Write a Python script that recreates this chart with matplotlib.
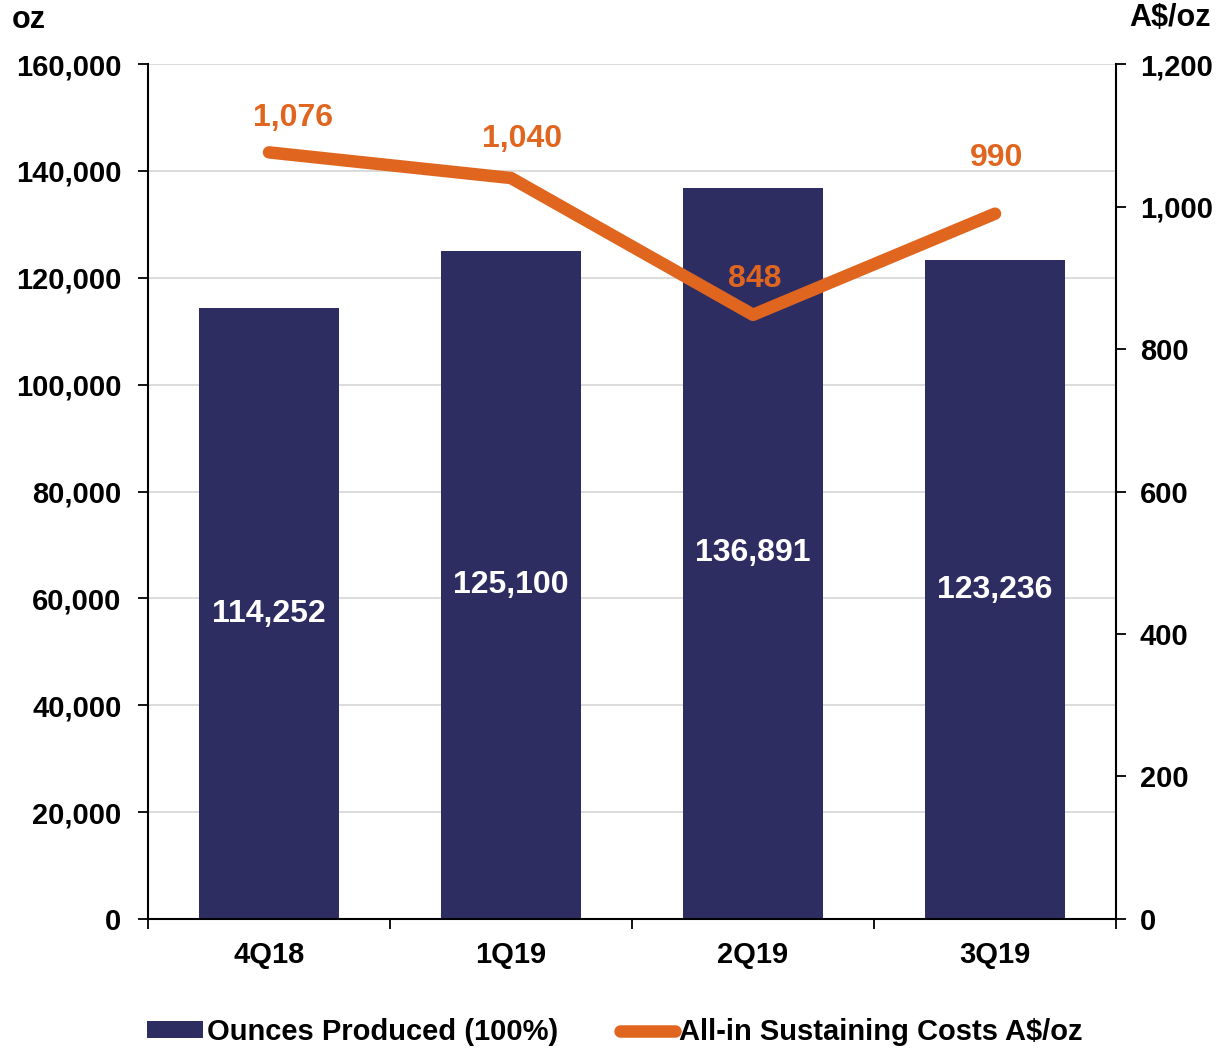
import matplotlib.pyplot as plt
from matplotlib.ticker import FuncFormatter

plt.rcParams['font.family'] = ['Liberation Sans', 'DejaVu Sans']
plt.rcParams['font.weight'] = 'bold'

# Dữ liệu
quarters = ['4Q18', '1Q19', '2Q19', '3Q19']
ounces = [114252, 125100, 136891, 123236]
aisc = [1076, 1040, 848, 990]

bar_color = '#2E2D62'
line_color = '#E0661F'

fig = plt.figure(figsize=(12.18, 10.5), dpi=100)
ax = fig.add_axes([0.1215, 0.1248, 0.7948, 0.8142])
ax2 = ax.twinx()

x = range(len(quarters))
bars = ax.bar(x, ounces, width=0.58, color=bar_color, zorder=2, label='Ounces Produced (100%)')
ax.set_ylim(0, 160000)
ax.set_xlim(-0.5, len(quarters) - 0.5)
ax.set_yticks(range(0, 160001, 20000))
ax.yaxis.set_major_formatter(FuncFormatter(lambda v, p: f'{int(v):,}'))
ax.grid(axis='y', color='#D9D9D9', linewidth=1.3, zorder=0)
ax.set_axisbelow(True)

# Nhãn giá trị trên cột
for i, v in enumerate(ounces):
    ax.text(i, v / 2, f'{v:,}', color='white', ha='center', va='center', fontsize=23, fontweight='bold')

line, = ax2.plot(x, aisc, color=line_color, linewidth=9, solid_capstyle='round',
                 solid_joinstyle='round', zorder=3, label='All-in Sustaining Costs A$/oz')
ax2.set_ylim(0, 1200)
ax2.set_yticks(range(0, 1201, 200))
ax2.yaxis.set_major_formatter(FuncFormatter(lambda v, p: f'{int(v):,}'))

# Vị trí nhãn của đường (điểm)
label_dx = [17, 8, 1, 1]
label_dy = [24.5, 28, 26, 40]
for i, v in enumerate(aisc):
    ax2.annotate(f'{v:,}', (i, v), xytext=(label_dx[i], label_dy[i]), textcoords='offset points',
                 ha='center', va='center', color=line_color, fontsize=23, fontweight='bold')

# Trục
ax.set_xticks([i for i in x])
ax.set_xticklabels(quarters)
ax.set_xticks([i - 0.5 for i in range(len(quarters) + 1)], minor=True)
ax.tick_params(axis='x', which='major', length=0, pad=16, labelsize=21)
ax.tick_params(axis='x', which='minor', length=7, width=1.3, direction='out')
ax.tick_params(axis='y', length=7, width=1.3, labelsize=21, pad=12)
ax2.tick_params(axis='y', length=7, width=1.3, labelsize=21, pad=10)

for a in (ax, ax2):
    a.spines['top'].set_visible(False)
    for s in ('left', 'right', 'bottom'):
        a.spines[s].set_linewidth(1.5)
ax.spines['right'].set_visible(False)
ax2.spines['left'].set_visible(False)
ax2.spines['bottom'].set_visible(False)

fig.text(0.01, 0.981, 'oz', fontsize=22, fontweight='bold', ha='left', va='center')
fig.text(0.994, 0.983, 'A$/oz', fontsize=22, fontweight='bold', ha='right', va='center')

fig.legend([bars, line], ['Ounces Produced (100%)', 'All-in Sustaining Costs A$/oz'],
           loc='center', bbox_to_anchor=(0.505, 0.017), ncol=2, frameon=False,
           handlelength=1.9, handleheight=0.5, handletextpad=0.15, columnspacing=2.1,
           prop={'weight': 'bold', 'size': 21})

fig.savefig('out.png', dpi=100)
